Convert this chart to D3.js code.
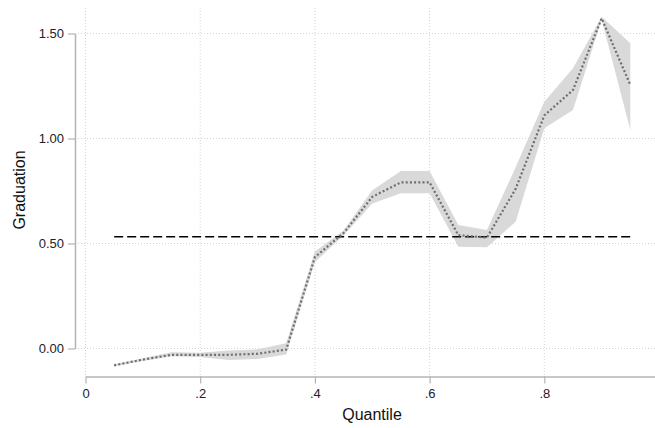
<!DOCTYPE html>
<html>
<head>
<meta charset="utf-8">
<script src="https://cdn.jsdelivr.net/npm/d3@7"></script>
<style>
  body { margin: 0; background: #fff; }
  svg { display: block; font-family: "Liberation Sans", Arial, sans-serif; }
</style>
</head>
<body>
<div id="chart"></div>
<script>
// quantiles and estimates
const quantiles = [0.05, 0.10, 0.15, 0.20, 0.25, 0.30, 0.35, 0.40, 0.45, 0.50,
                   0.55, 0.60, 0.65, 0.70, 0.75, 0.80, 0.85, 0.90, 0.95];
const estimate = [-0.080, -0.053, -0.030, -0.030, -0.030, -0.025, -0.005, 0.435, 0.550, 0.722,
                  0.791, 0.791, 0.540, 0.528, 0.760, 1.110, 1.231, 1.572, 1.255];
const ciLower = [-0.085, -0.060, -0.037, -0.040, -0.055, -0.050, -0.028, 0.412, 0.538, 0.690,
                 0.739, 0.739, 0.485, 0.482, 0.604, 1.049, 1.136, 1.565, 1.040];
const ciUpper = [-0.075, -0.046, -0.018, -0.020, -0.010, -0.004, 0.025, 0.462, 0.562, 0.754,
                 0.845, 0.845, 0.588, 0.564, 0.863, 1.175, 1.334, 1.580, 1.453];
const meanLine = 0.532;

const xTicks = [0, 0.2, 0.4, 0.6, 0.8];
const xTickLabels = ["0", ".2", ".4", ".6", ".8"];
const yTicks = [0, 0.5, 1.0, 1.5];
const yTickLabels = ["0.00", "0.50", "1.00", "1.50"];

const width = 655, height = 428;

const rows = quantiles.map((q, i) => ({
  q: q, est: estimate[i], lo: ciLower[i], hi: ciUpper[i]
}));

const x = d3.scaleLinear().domain([0, 1]).range([85.5, 659]);
const y = d3.scaleLinear().domain([0, 1.5]).range([348.5, 33.5]);

const svg = d3.select("#chart")
  .append("svg")
  .attr("width", width)
  .attr("height", height);

// grid
svg.append("g")
  .selectAll("line")
  .data(xTicks)
  .join("line")
  .attr("x1", (d) => x(d))
  .attr("x2", (d) => x(d))
  .attr("y1", 8)
  .attr("y2", 376)
  .attr("stroke", "#d4d4d4")
  .attr("stroke-width", 1)
  .attr("stroke-dasharray", "1,2");

svg.append("g")
  .selectAll("line")
  .data(yTicks)
  .join("line")
  .attr("x1", 75)
  .attr("x2", width)
  .attr("y1", (d) => y(d))
  .attr("y2", (d) => y(d))
  .attr("stroke", "#d4d4d4")
  .attr("stroke-width", 1)
  .attr("stroke-dasharray", "1,2");

// confidence band
svg.append("path")
  .datum(rows)
  .attr("fill", "#d9d9d9")
  .attr("d", d3.area()
    .x((d) => x(d.q))
    .y0((d) => y(d.lo))
    .y1((d) => y(d.hi)));

// reference line
svg.append("line")
  .attr("x1", x(quantiles[0]))
  .attr("x2", x(quantiles[quantiles.length - 1]))
  .attr("y1", y(meanLine))
  .attr("y2", y(meanLine))
  .attr("stroke", "#000")
  .attr("stroke-width", 1.6)
  .attr("stroke-dasharray", "9,4");

// estimate line (dotted)
svg.append("path")
  .datum(rows)
  .attr("fill", "none")
  .attr("stroke", "#6e6e6e")
  .attr("stroke-width", 2.2)
  .attr("stroke-dasharray", "2,2.2")
  .attr("d", d3.line()
    .x((d) => x(d.q))
    .y((d) => y(d.est)));

// y axis
const yAxis = d3.axisLeft(y)
  .tickValues(yTicks)
  .tickFormat((d, i) => yTickLabels[i])
  .tickSize(7)
  .tickPadding(4)
  .tickSizeOuter(0);

const gy = svg.append("g")
  .attr("transform", "translate(75,0)")
  .call(yAxis);
gy.select(".domain").attr("stroke", "#b4b4b4").attr("stroke-width", 1.5);
gy.selectAll(".tick line").attr("stroke", "#b4b4b4").attr("stroke-width", 1.2);
gy.selectAll(".tick text")
  .attr("fill", "#222")
  .style("font-size", "13px")
  .style("font-family", "'Liberation Sans', Arial, sans-serif");

// x axis
const xAxis = d3.axisBottom(x)
  .tickValues(xTicks)
  .tickFormat((d, i) => xTickLabels[i])
  .tickSize(7)
  .tickPadding(5)
  .tickSizeOuter(0);

const gx = svg.append("g")
  .attr("transform", "translate(0,376.5)")
  .call(xAxis);
gx.select(".domain").attr("stroke", "#b4b4b4").attr("stroke-width", 1.5);
gx.selectAll(".tick line").attr("stroke", "#b4b4b4").attr("stroke-width", 1.2);
gx.selectAll(".tick text")
  .attr("fill", "#222")
  .style("font-size", "13px")
  .style("font-family", "'Liberation Sans', Arial, sans-serif");

// axis titles
svg.append("text")
  .attr("x", 372)
  .attr("y", 420)
  .attr("text-anchor", "middle")
  .attr("fill", "#111")
  .style("font-size", "16px")
  .text("Quantile");

svg.append("text")
  .attr("transform", "translate(25,190) rotate(-90)")
  .attr("text-anchor", "middle")
  .attr("fill", "#111")
  .style("font-size", "16px")
  .text("Graduation");
</script>
</body>
</html>
